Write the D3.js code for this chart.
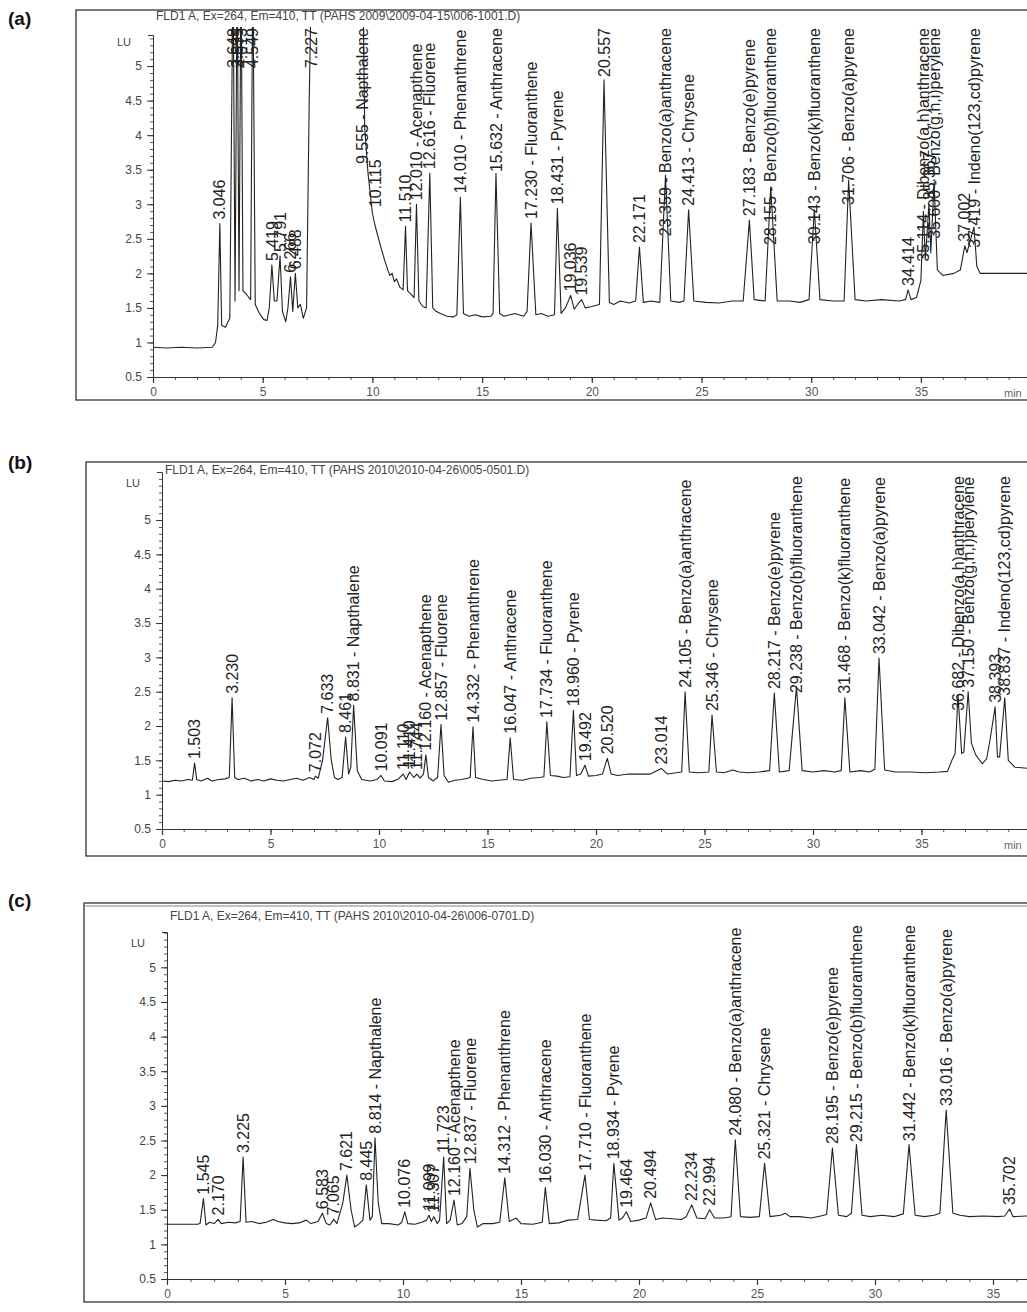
<!DOCTYPE html>
<html>
<head>
<meta charset="utf-8">
<script src="https://cdn.jsdelivr.net/npm/d3@7"></script>
<style>
  body { margin: 0; background: #fff; }
  svg { font-family: Arial, "Liberation Sans", sans-serif; }
</style>
</head>
<body>
<svg id="fig" width="1027" height="1312"></svg>
<script>
// Chromatograms (FLD1 A, Ex=264, Em=410)
// trace points are [time (min), signal (LU)]; values above ~5.5 are off scale

const titles = [
  "FLD1 A, Ex=264, Em=410, TT (PAHS 2009\\2009-04-15\\006-1001.D)",
  "FLD1 A, Ex=264, Em=410, TT (PAHS 2010\\2010-04-26\\005-0501.D)",
  "FLD1 A, Ex=264, Em=410, TT (PAHS 2010\\2010-04-26\\006-0701.D)"
];
const yTicks = [0.5, 1, 1.5, 2, 2.5, 3, 3.5, 4, 4.5, 5];
const xTicks = [0, 5, 10, 15, 20, 25, 30, 35];

// ---- panel (a)
const traceA = [[0,0.93],[0.6,0.92],[1.3,0.93],[2.0,0.92],[2.7,0.93],[2.85,1.0],[2.95,1.25],[3.046,2.72],[3.13,1.25],
  [3.3,1.22],[3.5,1.35],[3.649,6.5],[3.74,1.6],[3.835,6.5],[3.92,1.75],[4.013,6.5],[4.1,1.75],[4.3,1.68],[4.45,1.62],
  [4.549,6.5],[4.66,1.55],[4.85,1.42],[5.05,1.33],[5.2,1.32],[5.3,1.5],[5.419,2.12],[5.53,1.6],[5.65,1.6],[5.791,2.25],
  [5.9,1.45],[6.05,1.3],[6.15,1.5],[6.266,1.95],[6.37,1.45],[6.488,2.0],[6.6,1.5],[6.72,1.55],[6.85,1.35],[7.0,1.5],
  [7.12,4.5],[7.227,6.5],[7.3,6.5],[9.4,6.5],[9.555,6.5],[9.65,4.1],[9.8,3.45],[10.0,2.87],[10.115,2.7],[10.35,2.42],
  [10.55,2.2],[10.7,2.05],[10.8,1.97],[10.9,2.0],[11.0,1.88],[11.1,1.92],[11.25,1.8],[11.4,1.76],[11.51,2.68],[11.6,1.75],
  [11.75,1.7],[11.9,1.65],[12.01,3.0],[12.12,1.6],[12.3,1.52],[12.45,1.5],[12.616,3.45],[12.75,1.5],[12.9,1.45],
  [13.1,1.42],[13.4,1.38],[13.7,1.37],[13.85,1.4],[14.01,3.1],[14.15,1.42],[14.4,1.38],[14.7,1.4],[15.0,1.37],[15.4,1.38],
  [15.5,1.42],[15.632,3.45],[15.8,1.42],[16.0,1.38],[16.5,1.42],[16.9,1.38],[17.05,1.45],[17.23,2.73],[17.45,1.4],
  [17.7,1.42],[18.0,1.38],[18.3,1.4],[18.431,2.94],[18.6,1.42],[18.8,1.5],[19.036,1.68],[19.2,1.48],[19.35,1.55],
  [19.539,1.62],[19.7,1.5],[20.0,1.52],[20.35,1.55],[20.557,4.8],[20.8,1.58],[21.0,1.55],[21.3,1.6],[21.7,1.57],[22.0,1.6],
  [22.171,2.38],[22.35,1.58],[22.7,1.6],[23.1,1.58],[23.359,3.42],[23.6,1.6],[24.0,1.58],[24.2,1.6],[24.413,2.92],
  [24.65,1.6],[25.2,1.58],[25.8,1.57],[26.4,1.6],[26.9,1.6],[27.183,2.77],[27.4,1.62],[27.9,1.6],[28.155,3.25],[28.45,1.6],
  [29.0,1.6],[29.5,1.58],[29.9,1.62],[30.143,2.92],[30.4,1.62],[31.0,1.6],[31.5,1.6],[31.706,3.35],[32.0,1.62],[32.5,1.6],
  [33.2,1.62],[34.0,1.6],[34.3,1.62],[34.414,1.76],[34.55,1.62],[34.8,1.65],[35.0,1.9],[35.114,2.9],[35.2,2.2],
  [35.367,3.0],[35.45,2.3],[35.6,3.32],[35.75,2.05],[36.0,1.97],[36.5,2.0],[36.8,2.05],[37.0,2.4],[37.1,2.3],
  [37.419,2.67],[37.55,2.1],[37.7,2.0],[38.5,2.0],[40,2.0]];
const labelsA = [[3.046,2.72,"3.046"],[3.649,6.5,"3.649"],[3.835,6.5,"3.835"],[4.013,6.5,"4.013"],[4.549,6.5,"4.549"],
  [5.419,2.12,"5.419"],[5.791,2.25,"5.791"],[6.266,1.95,"6.266"],[6.488,2.0,"6.488"],[7.227,6.5,"7.227"],
  [9.555,6.5,"9.555 - Napthalene"],[10.115,2.9,"10.115"],[11.51,2.68,"11.510"],[12.01,3.0,"12.010 - Acenapthene"],
  [12.616,3.45,"12.616 - Fluorene"],[14.01,3.1,"14.010 - Phenanthrene"],[15.632,3.45,"15.632 - Anthracene"],
  [17.23,2.73,"17.230 - Fluoranthene"],[18.431,2.94,"18.431 - Pyrene"],[19.036,1.68,"19.036"],[19.539,1.62,"19.539"],
  [20.557,4.8,"20.557"],[22.171,2.38,"22.171"],[23.359,3.42,"23.359 - Benzo(a)anthracene"],[24.413,2.92,"24.413 - Chrysene"],
  [27.183,2.77,"27.183 - Benzo(e)pyrene"],[28.155,3.25,"28.155 - Benzo(b)fluoranthene"],
  [30.143,2.92,"30.143 - Benzo(k)fluoranthene"],[31.706,3.35,"31.706 - Benzo(a)pyrene"],[34.414,1.76,"34.414"],
  [35.114,2.9,"35.114 - Dibenzo(a,h)anthracene"],[35.367,3.0,"35.367"],[35.6,3.32,"35.600 - Benzo(g,h,i)perylene"],
  [37.0,2.4,"37.002"],[37.419,2.67,"37.419 - Indeno(123,cd)pyrene"]];

// ---- panel (b)
const traceB = [[0,1.2],[0.3,1.19],[0.6,1.21],[0.9,1.2],[1.2,1.22],[1.4,1.21],[1.503,1.46],[1.6,1.22],[1.8,1.2],[2.1,1.24],
  [2.3,1.2],[2.6,1.22],[2.9,1.23],[3.1,1.25],[3.23,2.41],[3.35,1.25],[3.5,1.22],[3.8,1.24],[4.1,1.2],[4.4,1.22],[4.7,1.2],
  [5.0,1.23],[5.3,1.21],[5.6,1.2],[5.9,1.22],[6.2,1.24],[6.5,1.21],[6.8,1.25],[7.0,1.22],[7.072,1.27],[7.2,1.24],[7.4,1.5],
  [7.633,2.12],[7.8,1.5],[7.95,1.25],[8.1,1.22],[8.3,1.25],[8.461,1.84],[8.6,1.3],[8.7,1.4],[8.831,2.3],[9.0,1.35],
  [9.2,1.22],[9.6,1.2],[9.9,1.22],[10.091,1.28],[10.25,1.2],[10.6,1.19],[10.9,1.23],[11.11,1.3],[11.25,1.22],[11.41,1.33],
  [11.6,1.25],[11.744,1.3],[11.9,1.24],[12.05,1.3],[12.16,1.58],[12.28,1.25],[12.5,1.2],[12.7,1.25],[12.857,2.02],
  [13.0,1.28],[13.2,1.18],[13.5,1.21],[13.8,1.22],[14.1,1.24],[14.2,1.25],[14.332,1.99],[14.45,1.25],[14.8,1.22],
  [15.2,1.2],[15.5,1.21],[15.9,1.22],[16.047,1.83],[16.2,1.22],[16.6,1.21],[17.0,1.24],[17.4,1.25],[17.6,1.26],
  [17.734,2.06],[17.9,1.28],[18.2,1.27],[18.5,1.25],[18.8,1.26],[18.96,2.23],[19.1,1.28],[19.3,1.3],[19.492,1.43],
  [19.65,1.27],[20.0,1.28],[20.3,1.3],[20.52,1.53],[20.7,1.3],[21.0,1.28],[21.5,1.3],[22.0,1.3],[22.5,1.3],[23.014,1.38],
  [23.3,1.3],[23.7,1.32],[23.95,1.33],[24.105,2.5],[24.3,1.33],[24.7,1.32],[25.2,1.33],[25.346,2.16],[25.55,1.33],
  [25.9,1.32],[26.3,1.36],[26.6,1.33],[27.0,1.32],[27.5,1.33],[28.0,1.35],[28.217,2.48],[28.45,1.33],[28.9,1.35],
  [29.238,2.57],[29.5,1.35],[30.0,1.33],[30.5,1.35],[31.0,1.33],[31.3,1.35],[31.468,2.41],[31.7,1.33],[32.2,1.35],
  [32.6,1.33],[32.85,1.37],[33.042,2.99],[33.3,1.36],[33.8,1.33],[34.5,1.33],[35.2,1.32],[35.8,1.33],[36.2,1.34],
  [36.4,1.5],[36.55,1.6],[36.682,2.45],[36.85,1.6],[36.95,1.62],[37.15,2.5],[37.3,1.75],[37.5,1.58],[37.8,1.45],
  [38.0,1.52],[38.16,1.8],[38.393,2.28],[38.5,1.55],[38.6,1.55],[38.837,2.41],[39.0,1.5],[39.3,1.4],[40,1.38]];
const labelsB = [[1.503,1.46,"1.503"],[3.23,2.41,"3.230"],[7.072,1.27,"7.072"],[7.633,2.12,"7.633"],[8.461,1.84,"8.461"],
  [8.831,2.3,"8.831 - Napthalene"],[10.091,1.28,"10.091"],[11.11,1.3,"11.110"],[11.41,1.33,"11.410"],[11.744,1.3,"11.744"],
  [12.16,1.58,"12.160 - Acenapthene"],[12.857,2.02,"12.857 - Fluorene"],[14.332,1.99,"14.332 - Phenanthrene"],
  [16.047,1.83,"16.047 - Anthracene"],[17.734,2.06,"17.734 - Fluoranthene"],[18.96,2.23,"18.960 - Pyrene"],
  [19.492,1.43,"19.492"],[20.52,1.53,"20.520"],[23.014,1.38,"23.014"],[24.105,2.5,"24.105 - Benzo(a)anthracene"],
  [25.346,2.16,"25.346 - Chrysene"],[28.217,2.48,"28.217 - Benzo(e)pyrene"],[29.238,2.57,"29.238 - Benzo(b)fluoranthene"],
  [31.468,2.41,"31.468 - Benzo(k)fluoranthene"],[33.042,2.99,"33.042 - Benzo(a)pyrene"],
  [36.682,2.45,"36.682 - Dibenzo(a,h)anthracene"],[37.15,2.5,"37.150 - Benzo(g,h,i)perylene"],[38.393,2.28,"38.393"],
  [38.837,2.41,"38.837 - Indeno(123,cd)pyrene"]];

// ---- panel (c)
const traceC = [[0,1.29],[1.3,1.29],[1.4,1.3],[1.545,1.66],[1.65,1.28],[1.8,1.32],[2.0,1.3],[2.17,1.36],[2.3,1.3],[2.6,1.32],
  [2.9,1.31],[3.1,1.33],[3.225,2.26],[3.35,1.32],[3.6,1.33],[3.9,1.3],[4.2,1.32],[4.5,1.36],[4.7,1.33],[5.0,1.31],[5.3,1.3],
  [5.6,1.31],[5.9,1.35],[6.1,1.3],[6.4,1.33],[6.583,1.45],[6.75,1.3],[6.9,1.28],[7.065,1.36],[7.2,1.3],[7.45,1.6],
  [7.621,2.0],[7.8,1.5],[7.95,1.25],[8.15,1.3],[8.3,1.35],[8.445,1.86],[8.6,1.35],[8.7,1.4],[8.814,2.54],[8.95,1.6],
  [9.1,1.3],[9.4,1.3],[9.8,1.28],[9.95,1.32],[10.076,1.47],[10.2,1.3],[10.5,1.29],[10.8,1.32],[11.0,1.35],[11.099,1.42],
  [11.2,1.33],[11.307,1.4],[11.45,1.3],[11.55,1.35],[11.723,2.26],[11.85,1.3],[12.0,1.35],[12.16,1.64],[12.3,1.28],
  [12.5,1.3],[12.7,1.4],[12.837,2.1],[13.0,1.5],[13.15,1.25],[13.4,1.3],[13.8,1.3],[14.1,1.32],[14.312,1.96],[14.5,1.33],
  [14.8,1.38],[15.0,1.3],[15.5,1.29],[15.9,1.32],[16.03,1.82],[16.2,1.3],[16.6,1.31],[17.0,1.35],[17.4,1.36],[17.71,2.0],
  [17.9,1.36],[18.2,1.35],[18.6,1.34],[18.8,1.38],[18.934,2.17],[19.15,1.35],[19.3,1.38],[19.464,1.47],[19.65,1.33],
  [20.0,1.35],[20.3,1.38],[20.494,1.6],[20.7,1.36],[21.0,1.38],[21.4,1.37],[21.8,1.36],[22.0,1.4],[22.234,1.57],
  [22.45,1.38],[22.8,1.37],[22.994,1.5],[23.2,1.38],[23.6,1.38],[23.9,1.4],[24.08,2.51],[24.3,1.4],[24.7,1.39],[25.1,1.4],
  [25.321,2.17],[25.55,1.4],[26.0,1.42],[26.2,1.45],[26.4,1.4],[26.8,1.4],[27.3,1.38],[27.7,1.41],[27.95,1.43],
  [28.195,2.39],[28.45,1.42],[28.8,1.4],[29.0,1.45],[29.215,2.44],[29.45,1.42],[29.8,1.4],[30.3,1.42],[30.8,1.4],
  [31.2,1.44],[31.442,2.44],[31.7,1.42],[32.1,1.4],[32.5,1.42],[32.75,1.45],[32.85,2.0],[33.016,2.94],[33.3,1.45],
  [33.6,1.42],[34.0,1.4],[34.6,1.41],[35.2,1.4],[35.5,1.41],[35.702,1.51],[35.85,1.4],[36.5,1.41],[37,1.4]];
const labelsC = [[1.545,1.66,"1.545"],[2.17,1.36,"2.170"],[3.225,2.26,"3.225"],[6.583,1.45,"6.583"],[7.065,1.36,"7.065"],
  [7.621,2.0,"7.621"],[8.445,1.86,"8.445"],[8.814,2.54,"8.814 - Napthalene"],[10.076,1.47,"10.076"],[11.099,1.42,"11.099"],
  [11.307,1.4,"11.307"],[11.723,2.26,"11.723"],[12.16,1.64,"12.160 - Acenapthene"],[12.837,2.1,"12.837 - Fluorene"],
  [14.312,1.96,"14.312 - Phenanthrene"],[16.03,1.82,"16.030 - Anthracene"],[17.71,2.0,"17.710 - Fluoranthene"],
  [18.934,2.17,"18.934 - Pyrene"],[19.464,1.47,"19.464"],[20.494,1.6,"20.494"],[22.234,1.57,"22.234"],
  [22.994,1.5,"22.994"],[24.08,2.51,"24.080 - Benzo(a)anthracene"],[25.321,2.17,"25.321 - Chrysene"],
  [28.195,2.39,"28.195 - Benzo(e)pyrene"],[29.215,2.44,"29.215 - Benzo(b)fluoranthene"],
  [31.442,2.44,"31.442 - Benzo(k)fluoranthene"],[33.016,2.94,"33.016 - Benzo(a)pyrene"],[35.702,1.51,"35.702"]];

const svg = d3.select("#fig");

// layout of each panel, in pixels
const panels = [
  {letter: "(a)", letterY: 25, frame: [76, 10, 400], x0: 153, pxMin: 21.94, tmax: 40,
   y05: 377, yTopVal: 5.45, yTop: 35, clipTop: 27, labelTop: 28, titleY: 20, luY: 46,
   trace: traceA, labels: labelsA, title: titles[0], minX: 1004},
  {letter: "(b)", letterY: 469, frame: [86, 462, 856], x0: 162, pxMin: 21.7, tmax: 40,
   y05: 829, yTopVal: 5.7, yTop: 472, clipTop: 476, labelTop: 476, titleY: 474, luY: 487,
   trace: traceB, labels: labelsB, title: titles[1], minX: 1004},
  {letter: "(c)", letterY: 907, frame: [84, 903, 1302], x0: 167, pxMin: 23.6, tmax: 37,
   y05: 1279, yTopVal: 5.51, yTop: 932, clipTop: 924, labelTop: 925, titleY: 920, luY: 947,
   trace: traceC, labels: labelsC, title: titles[2], doubleTop: true}
];

panels.forEach((p, i) => {
  const x = d3.scaleLinear().domain([0, p.tmax]).range([p.x0, p.x0 + p.tmax * p.pxMin]);
  const y = d3.scaleLinear().domain([0.5, p.yTopVal]).range([p.y05, p.yTop]);
  const g = svg.append("g");

  // outer frame (right side runs off the page like the scan)
  g.append("rect")
    .attr("x", p.frame[0]).attr("y", p.frame[1])
    .attr("width", 1100).attr("height", p.frame[2] - p.frame[1])
    .attr("fill", "none").attr("stroke", "#333").attr("stroke-width", 1.3);
  if (p.doubleTop) {
    g.append("line").attr("x1", p.frame[0]).attr("x2", 1027)
      .attr("y1", p.frame[1] + 3).attr("y2", p.frame[1] + 3)
      .attr("stroke", "#666").attr("stroke-width", 0.8);
  }

  svg.append("text").attr("x", 8).attr("y", p.letterY)
    .attr("font-size", 19).attr("font-weight", "bold").attr("fill", "#111")
    .text(p.letter);

  g.append("text").attr("x", p.x0 + 3).attr("y", p.titleY)
    .attr("font-size", 12).attr("fill", "#444")
    .text(p.title);

  g.append("text").attr("x", p.x0 - 36).attr("y", p.luY)
    .attr("font-size", 11).attr("fill", "#444").text("LU");

  // y axis with minor ticks
  g.append("g").attr("transform", `translate(${p.x0},0)`)
    .call(d3.axisLeft(y).tickValues(d3.range(0.5, p.yTopVal, 0.1)).tickSize(3).tickSizeOuter(0).tickFormat(""))
    .call(a => a.select(".domain").remove())
    .selectAll("line").attr("stroke", "#555");
  g.append("g").attr("transform", `translate(${p.x0},0)`)
    .call(d3.axisLeft(y).tickValues(yTicks).tickSize(6).tickSizeOuter(5).tickPadding(5).tickFormat(d => String(d)))
    .call(a => a.selectAll("text").attr("font-size", 12).attr("fill", "#444"))
    .call(a => a.selectAll("line, .domain").attr("stroke", "#333"));

  // x axis with minor ticks
  g.append("g").attr("transform", `translate(0,${p.y05})`)
    .call(d3.axisBottom(x).tickValues(d3.range(0, p.tmax + 1, 1)).tickSize(3).tickFormat(""))
    .call(a => a.select(".domain").remove())
    .selectAll("line").attr("stroke", "#555");
  g.append("g").attr("transform", `translate(0,${p.y05})`)
    .call(d3.axisBottom(x).tickValues(xTicks).tickSize(6).tickSizeOuter(0).tickPadding(4).tickFormat(d => String(d)))
    .call(a => a.selectAll("text").attr("font-size", 12).attr("fill", "#555"))
    .call(a => a.selectAll("line, .domain").attr("stroke", "#333").attr("stroke-width", 1.2));
  if (p.minX) {
    g.append("text").attr("x", p.minX).attr("y", p.y05 + 20)
      .attr("font-size", 11).attr("fill", "#666").text("min");
  }

  // trace
  const clipId = "clip" + i;
  svg.append("clipPath").attr("id", clipId).append("rect")
    .attr("x", p.x0).attr("y", p.clipTop)
    .attr("width", 1027 - p.x0).attr("height", p.y05 - p.clipTop);
  g.append("path")
    .datum(p.trace)
    .attr("clip-path", `url(#${clipId})`)
    .attr("fill", "none").attr("stroke", "#222").attr("stroke-width", 1.1)
    .attr("stroke-linejoin", "round")
    .attr("d", d3.line().x(d => x(d[0])).y(d => y(d[1])));

  // rotated peak labels, pushed down when they would run past the top
  const lab = g.append("g").attr("font-size", 16).attr("fill", "#222");
  p.labels.forEach(d => {
    const t = lab.append("text").attr("dy", "0.35em").text(d[2]);
    const len = t.node().getComputedTextLength();
    let start = y(Math.min(d[1], p.yTopVal + 1)) - 4;
    if (start - len < p.labelTop) start = p.labelTop + len;
    t.attr("transform", `translate(${x(d[0])},${start}) rotate(-90)`);
  });
});
</script>
</body>
</html>
